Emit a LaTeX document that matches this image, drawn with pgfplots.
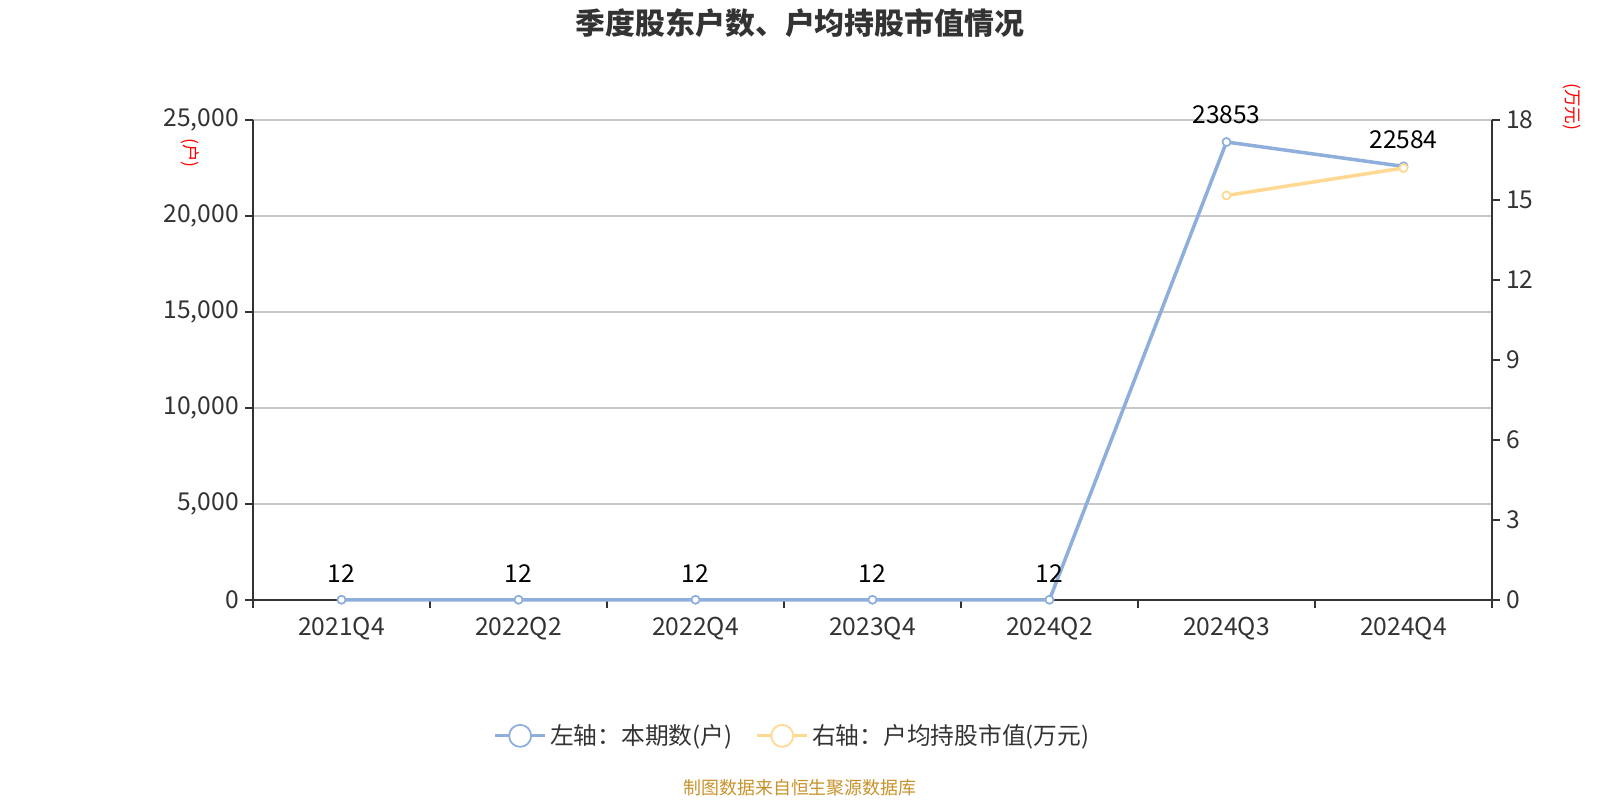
\documentclass[border=0pt]{standalone}
\usepackage{fontspec}
\setmainfont{Noto Sans CJK SC}
\usepackage{pgfplots}
\pgfplotsset{compat=1.18}
\definecolor{cblue}{HTML}{8EAEDC}
\definecolor{corange}{HTML}{FFD991}
\definecolor{ctext}{HTML}{333333}
\definecolor{cgrid}{HTML}{C8C8C8}
\definecolor{csrc}{HTML}{C8922A}
\begin{document}
\begin{tikzpicture}
\path[use as bounding box] (0cm,0cm) rectangle (32cm,16cm);
\pgfplotsset{
  common/.style={
    at={(5.06cm,4cm)}, anchor=south west, scale only axis,
    width=24.78cm, height=9.6cm,
    xmin=-0.5, xmax=6.5, clip=false,
    scaled y ticks=false,
    /pgf/number format/assume math mode=true,
    tick label style={font=\fontsize{14}{16}\selectfont, text=ctext},
    axis line style={ctext, line width=1pt, -},
    tick style={ctext, line width=1pt},
    tick align=outside,
    major tick length=0.16cm,
    minor tick length=0.16cm,
  }
}
\begin{axis}[common,
  ymin=0, ymax=25000,
  axis x line*=bottom, axis y line*=left,
  xtick={0,...,6},
  xticklabels={2021Q4,2022Q2,2022Q4,2023Q4,2024Q2,2024Q3,2024Q4},
  major x tick style={draw=none},
  minor xtick={-0.5,0.5,1.5,2.5,3.5,4.5,5.5,6.5},
  ytick={0,5000,10000,15000,20000,25000},
  /pgf/number format/1000 sep={,},
  ymajorgrids, grid style={cgrid, line width=0.8pt},
  x tick label style={yshift=-0.05cm},
  legend columns=2,
  legend style={at={(0.436,-0.283)}, anchor=center, draw=none, fill=none,
    font=\fontsize{13.5}{16}\selectfont, text=ctext,
    /tikz/every even column/.append style={column sep=0.4cm}},
  legend image code/.code={
    \draw[line width=1.7pt] (0cm,0cm) -- (1cm,0cm);
    \draw[line width=1pt, fill=white] (0.5cm,0cm) circle (0.22cm);
  },
]
\addplot[cblue, line width=2pt, mark=*, mark size=2.3pt,
  mark options={fill=white, draw=cblue, line width=1pt},
  nodes near coords, point meta=explicit symbolic,
  every node near coord/.append style={font=\fontsize{14}{16}\selectfont, text=black, anchor=south, yshift=0.22cm},
] coordinates {(0,12) [12] (1,12) [12] (2,12) [12] (3,12) [12] (4,12) [12] (5,23853) [23853] (6,22584) [22584]};
\addlegendentry{左轴：本期数(户)}
\addlegendimage{corange, line width=2pt}
\addlegendentry{右轴：户均持股市值(万元)}
\end{axis}
\begin{axis}[common,
  ymin=0, ymax=18,
  axis x line=none, axis y line*=right,
  ytick={0,3,6,9,12,15,18},
]
\addplot[corange, line width=2pt, mark=*, mark size=2.3pt,
  mark options={fill=white, draw=corange, line width=1pt}]
  coordinates {(5,15.17) (6,16.2)};
\end{axis}
\node[font=\fontsize{17}{20}\selectfont\bfseries, text=ctext] at (16cm,15.54cm) {季度股东户数、户均持股市值情况};
\node[rotate=-90, font=\fontsize{10}{12}\selectfont, text=red] at (3.8cm,12.94cm) {(户)};
\node[rotate=-90, font=\fontsize{10}{12}\selectfont, text=red] at (31.44cm,13.86cm) {(万元)};
\node[font=\fontsize{10.2}{12}\selectfont, text=csrc] at (16cm,0.24cm) {制图数据来自恒生聚源数据库};
\end{tikzpicture}
\end{document}
